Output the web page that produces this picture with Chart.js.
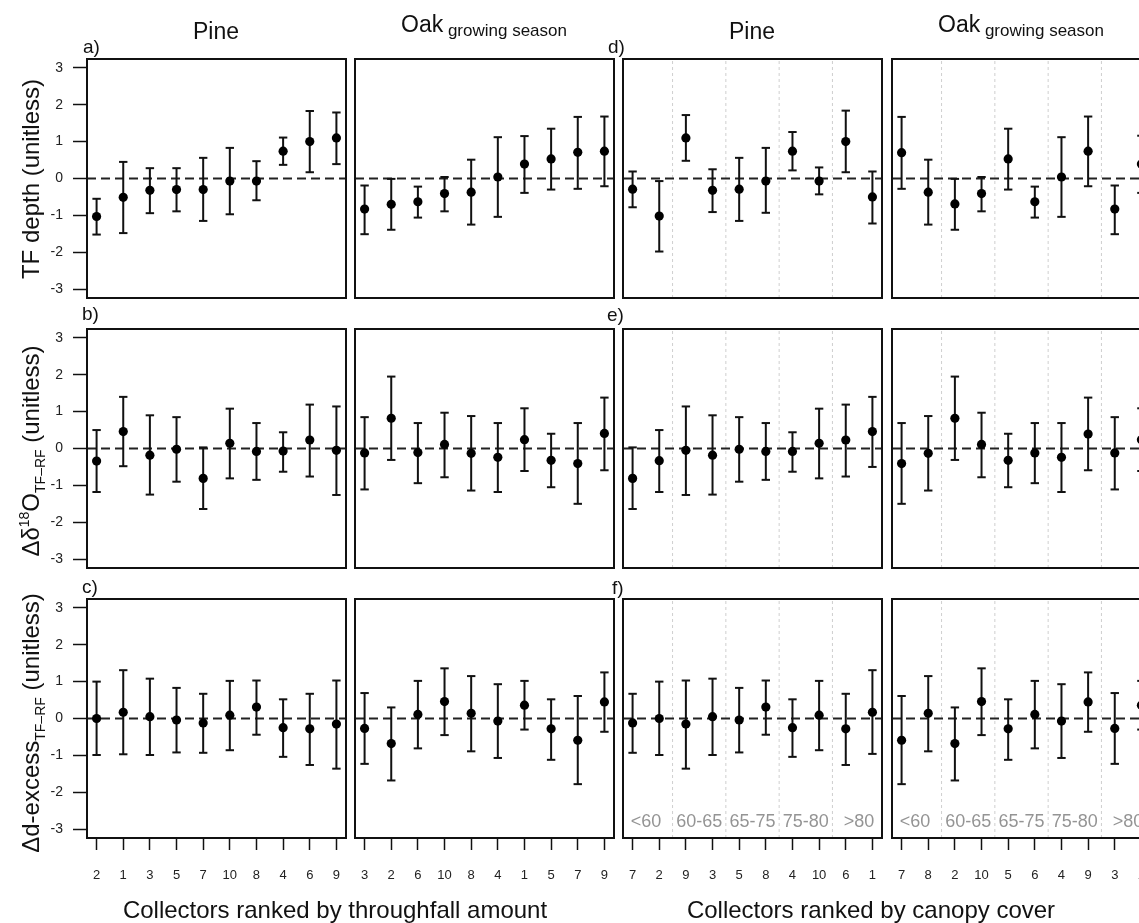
<!DOCTYPE html>
<html>
<head>
<meta charset="utf-8">
<script src="https://cdn.jsdelivr.net/npm/chart.js@4.4.1/dist/chart.umd.min.js"></script>
<style>
  html, body { margin: 0; padding: 0; background: #fff; overflow: hidden; }
  #fig { position: relative; width: 1139px; height: 923px; overflow: hidden;
         font-family: Arial, "Liberation Sans", sans-serif; color: #111; }
  #fig canvas { position: absolute; }
  .lbl { position: absolute; white-space: nowrap; line-height: 1; z-index: 2; }
  .ctr { transform: translateX(-50%); }
  .rot { transform: translate(-50%, -50%) rotate(-90deg); font-size: 24px; }
  .gs  { font-size: 17px; position: relative; top: 4px; }
  .sub { font-size: 14px; position: relative; top: 6px; }
  .sup { font-size: 14px; position: relative; top: -10px; }
</style>
</head>
<body>
<div id="fig">
  <div class="lbl ctr" style="left:216px;top:20px;font-size:23px">Pine</div>
  <div class="lbl ctr" style="left:484px;top:13px;font-size:23px">Oak<span class="gs"> growing season</span></div>
  <div class="lbl ctr" style="left:752px;top:20px;font-size:23px">Pine</div>
  <div class="lbl ctr" style="left:1021px;top:13px;font-size:23px">Oak<span class="gs"> growing season</span></div>

  <div class="lbl" style="left:83px;top:37px;font-size:19px">a)</div>
  <div class="lbl" style="left:82px;top:304px;font-size:19px">b)</div>
  <div class="lbl" style="left:82px;top:577px;font-size:19px">c)</div>
  <div class="lbl" style="left:608px;top:37px;font-size:19px">d)</div>
  <div class="lbl" style="left:607px;top:305px;font-size:19px">e)</div>
  <div class="lbl" style="left:612px;top:578px;font-size:19px">f)</div>

  <div class="lbl rot" style="left:31px;top:179px">TF depth (unitless)</div>
  <div class="lbl rot" style="left:31px;top:451px">Δδ<span class="sup">18</span>O<span class="sub">TF–RF</span> (unitless)</div>
  <div class="lbl rot" style="left:31px;top:723px">Δd-excess<span class="sub">TF–RF</span> (unitless)</div>

  <div class="lbl ctr" style="left:335px;top:898px;font-size:24px">Collectors ranked by throughfall amount</div>
  <div class="lbl ctr" style="left:871px;top:898px;font-size:24px">Collectors ranked by canopy cover</div>
</div>
<script>
// collector order on each x axis
const pineAmtOrder = ['2', '1', '3', '5', '7', '10', '8', '4', '6', '9'];
const oakAmtOrder = ['3', '2', '6', '10', '8', '4', '1', '5', '7', '9'];
const pineCanOrder = ['7', '2', '9', '3', '5', '8', '4', '10', '6', '1'];
const oakCanOrder = ['7', '8', '2', '10', '5', '6', '4', '9', '3', '1'];
const canopyGroups = ['<60', '60-65', '65-75', '75-80', '>80'];
const canopyGroupSize = [2, 2, 2, 2, 2];
const yTicks = [-3, -2, -1, 0, 1, 2, 3];

// TF depth
const depthPineAmt = [-1.03, -0.51, -0.32, -0.30, -0.30, -0.07, -0.07, 0.74, 1.00, 1.10];
const depthPineAmtLo = [-1.52, -1.48, -0.94, -0.89, -1.15, -0.97, -0.59, 0.37, 0.17, 0.39];
const depthPineAmtHi = [-0.55, 0.45, 0.28, 0.28, 0.56, 0.83, 0.47, 1.11, 1.83, 1.79];
const depthOakAmt = [-0.83, -0.70, -0.63, -0.41, -0.37, 0.04, 0.39, 0.53, 0.71, 0.74];
const depthOakAmtLo = [-1.51, -1.39, -1.06, -0.89, -1.25, -1.04, -0.39, -0.30, -0.28, -0.21];
const depthOakAmtHi = [-0.19, -0.01, -0.22, 0.04, 0.51, 1.12, 1.15, 1.35, 1.67, 1.68];
const depthPineCan = [-0.29, -1.02, 1.10, -0.32, -0.29, -0.07, 0.74, -0.07, 1.00, -0.50];
const depthPineCanLo = [-0.78, -1.98, 0.48, -0.91, -1.15, -0.93, 0.22, -0.43, 0.17, -1.22];
const depthPineCanHi = [0.19, -0.07, 1.72, 0.25, 0.56, 0.83, 1.26, 0.30, 1.84, 0.19];
const depthOakCan = [0.70, -0.37, -0.69, -0.41, 0.53, -0.63, 0.04, 0.74, -0.83, 0.39];
const depthOakCanLo = [-0.28, -1.25, -1.39, -0.89, -0.30, -1.06, -1.04, -0.21, -1.51, -0.39];
const depthOakCanHi = [1.67, 0.51, -0.01, 0.04, 1.35, -0.22, 1.12, 1.68, -0.19, 1.16];

// delta 18O
const o18PineAmt = [-0.34, 0.46, -0.18, -0.02, -0.81, 0.14, -0.08, -0.07, 0.23, -0.05];
const o18PineAmtLo = [-1.18, -0.48, -1.25, -0.90, -1.64, -0.81, -0.85, -0.63, -0.76, -1.26];
const o18PineAmtHi = [0.50, 1.40, 0.90, 0.85, 0.03, 1.08, 0.69, 0.44, 1.19, 1.14];
const o18OakAmt = [-0.12, 0.82, -0.11, 0.11, -0.13, -0.24, 0.24, -0.32, -0.41, 0.41];
const o18OakAmtLo = [-1.11, -0.31, -0.94, -0.78, -1.14, -1.18, -0.61, -1.05, -1.50, -0.59];
const o18OakAmtHi = [0.85, 1.95, 0.69, 0.97, 0.88, 0.69, 1.09, 0.40, 0.69, 1.38];
const o18PineCan = [-0.81, -0.33, -0.05, -0.18, -0.02, -0.08, -0.08, 0.14, 0.23, 0.46];
const o18PineCanLo = [-1.64, -1.18, -1.26, -1.25, -0.90, -0.85, -0.63, -0.81, -0.76, -0.50];
const o18PineCanHi = [0.03, 0.50, 1.14, 0.90, 0.85, 0.69, 0.44, 1.08, 1.19, 1.40];
const o18OakCan = [-0.41, -0.13, 0.82, 0.11, -0.32, -0.12, -0.24, 0.39, -0.12, 0.24];
const o18OakCanLo = [-1.50, -1.14, -0.31, -0.78, -1.05, -0.94, -1.18, -0.59, -1.11, -0.61];
const o18OakCanHi = [0.69, 0.88, 1.95, 0.97, 0.40, 0.69, 0.69, 1.38, 0.85, 1.09];

// d-excess
const dexPineAmt = [0.00, 0.17, 0.05, -0.04, -0.12, 0.09, 0.31, -0.25, -0.28, -0.15];
const dexPineAmtLo = [-0.99, -0.97, -0.99, -0.92, -0.93, -0.86, -0.44, -1.04, -1.26, -1.36];
const dexPineAmtHi = [1.00, 1.31, 1.08, 0.83, 0.67, 1.02, 1.03, 0.52, 0.67, 1.03];
const dexOakAmt = [-0.27, -0.68, 0.11, 0.46, 0.14, -0.07, 0.36, -0.28, -0.59, 0.45];
const dexOakAmtLo = [-1.23, -1.68, -0.81, -0.45, -0.89, -1.07, -0.30, -1.12, -1.78, -0.36];
const dexOakAmtHi = [0.69, 0.30, 1.02, 1.36, 1.15, 0.93, 1.02, 0.52, 0.61, 1.25];
const dexPineCan = [-0.12, 0.00, -0.15, 0.05, -0.04, 0.31, -0.25, 0.09, -0.28, 0.17];
const dexPineCanLo = [-0.93, -0.99, -1.36, -0.99, -0.92, -0.44, -1.04, -0.86, -1.26, -0.96];
const dexPineCanHi = [0.67, 1.00, 1.03, 1.08, 0.83, 1.03, 0.52, 1.02, 0.67, 1.31];
const dexOakCan = [-0.59, 0.14, -0.68, 0.46, -0.28, 0.11, -0.07, 0.45, -0.27, 0.36];
const dexOakCanLo = [-1.78, -0.89, -1.68, -0.45, -1.12, -0.81, -1.07, -0.36, -1.23, -0.30];
const dexOakCanHi = [0.61, 1.15, 0.30, 1.36, 0.52, 1.02, 0.93, 1.25, 0.69, 1.02];

const panels = [
    [[depthPineAmt, depthPineAmtLo, depthPineAmtHi, pineAmtOrder],
     [depthOakAmt, depthOakAmtLo, depthOakAmtHi, oakAmtOrder],
     [depthPineCan, depthPineCanLo, depthPineCanHi, pineCanOrder],
     [depthOakCan, depthOakCanLo, depthOakCanHi, oakCanOrder]],
    [[o18PineAmt, o18PineAmtLo, o18PineAmtHi, pineAmtOrder],
     [o18OakAmt, o18OakAmtLo, o18OakAmtHi, oakAmtOrder],
     [o18PineCan, o18PineCanLo, o18PineCanHi, pineCanOrder],
     [o18OakCan, o18OakCanLo, o18OakCanHi, oakCanOrder]],
    [[dexPineAmt, dexPineAmtLo, dexPineAmtHi, pineAmtOrder],
     [dexOakAmt, dexOakAmtLo, dexOakAmtHi, oakAmtOrder],
     [dexPineCan, dexPineCanLo, dexPineCanHi, pineCanOrder],
     [dexOakCan, dexOakCanLo, dexOakCanHi, oakCanOrder]]
];

// group boundaries and centres along the canopy ranking
const groupBreaks = [];
const groupCenters = [];
let acc = 0;
canopyGroupSize.forEach((n, i) => {
    groupCenters.push(acc + (n + 1) / 2);
    acc += n;
    if (i < canopyGroupSize.length - 1) groupBreaks.push(acc + 0.5);
});

const xMin = 0.64, xMax = 10.36, yMin = -3.24, yMax = 3.24;
const colLeft = [87, 355, 623, 892];
const rowTop = [59, 329, 599];
const panelW = 259, panelH = 239;
const PAD = 24, axisW = 87, axisH = 70;
const FONT = 'Arial, "Liberation Sans", sans-serif';

const boxPlugin = {
    id: 'box',
    afterDatasetsDraw(chart) {
        const a = chart.chartArea;
        const c = chart.ctx;
        c.save();
        c.strokeStyle = '#111';
        c.lineWidth = 2;
        c.strokeRect(a.left, a.top, a.right - a.left, a.bottom - a.top);
        c.restore();
    }
};

const groupPlugin = {
    id: 'groupLabels',
    afterDatasetsDraw(chart, args, opts) {
        if (!opts.show) return;
        const c = chart.ctx;
        const xs = chart.scales.x;
        c.save();
        c.font = '18px ' + FONT;
        c.fillStyle = '#949494';
        c.textAlign = 'center';
        c.textBaseline = 'middle';
        canopyGroups.forEach((g, i) => {
            c.fillText(g, xs.getPixelForValue(groupCenters[i]), chart.chartArea.bottom - 16);
        });
        c.restore();
    }
};

function makePanel(row, col) {
    const [mean, lo, hi, cats] = panels[row][col];
    const fig = document.getElementById('fig');
    const canvas = document.createElement('canvas');
    const showY = col === 0;
    const showX = row === 2;
    const left = showY ? 0 : colLeft[col] - PAD;
    const top = rowTop[row] - PAD;
    const w = (showY ? axisW : PAD) + panelW + PAD;
    const h = PAD + panelH + (showX ? axisH : PAD);
    canvas.width = w;
    canvas.height = h;
    canvas.style.left = left + 'px';
    canvas.style.top = top + 'px';
    canvas.style.width = w + 'px';
    canvas.style.height = h + 'px';
    fig.appendChild(canvas);

    const whiskers = [];
    lo.forEach((v, i) => {
        whiskers.push({ x: i + 1, y: v }, { x: i + 1, y: hi[i] }, { x: i + 1, y: null });
    });
    const caps = lo.map((v, i) => ({ x: i + 1, y: v }))
        .concat(hi.map((v, i) => ({ x: i + 1, y: v })));

    const datasets = [
        {
            data: mean.map((v, i) => ({ x: i + 1, y: v })),
            pointRadius: 4.6, pointBackgroundColor: '#000', pointBorderWidth: 0,
            order: 0
        },
        {
            data: caps, pointStyle: 'line', pointRadius: 4.2,
            pointBorderWidth: 2, pointBorderColor: '#111', order: 1
        },
        {
            data: whiskers, showLine: true, spanGaps: false, borderColor: '#111',
            borderWidth: 2, pointRadius: 0, order: 2
        },
        {
            data: [{ x: xMin, y: 0 }, { x: xMax, y: 0 }], showLine: true,
            borderColor: '#222', borderWidth: 2, borderDash: [9, 5], pointRadius: 0, order: 3
        }
    ];
    if (col >= 2) {
        const br = [];
        groupBreaks.forEach(b => br.push({ x: b, y: yMin }, { x: b, y: yMax }, { x: b, y: null }));
        datasets.push({
            data: br, showLine: true, spanGaps: false, borderColor: '#cfcfcf',
            borderWidth: 1, borderDash: [3, 3], pointRadius: 0, order: 4
        });
    }

    new Chart(canvas, {
        type: 'scatter',
        data: { datasets },
        plugins: [boxPlugin, groupPlugin],
        options: {
            responsive: false,
            maintainAspectRatio: false,
            devicePixelRatio: 1,
            animation: false,
            events: [],
            layout: {
                padding: { left: showY ? 0 : PAD, right: PAD, top: PAD, bottom: showX ? 0 : PAD }
            },
            plugins: {
                legend: { display: false },
                tooltip: { enabled: false },
                groupLabels: { show: showX && col >= 2 }
            },
            scales: {
                x: {
                    type: 'linear', min: xMin, max: xMax,
                    display: showX,
                    afterBuildTicks: s => { s.ticks = cats.map((c, i) => ({ value: i + 1 })); },
                    afterFit: s => { if (showX) s.height = axisH; },
                    grid: { drawOnChartArea: false, drawTicks: true, tickLength: 12, tickWidth: 1.5, tickColor: '#111' },
                    border: { display: false },
                    ticks: {
                        autoSkip: false, maxRotation: 0, padding: 18, color: '#222',
                        font: { family: FONT, size: 13 },
                        callback: v => cats[Math.round(v) - 1]
                    }
                },
                y: {
                    type: 'linear', min: yMin, max: yMax,
                    display: showY,
                    afterBuildTicks: s => { s.ticks = yTicks.map(v => ({ value: v })); },
                    afterFit: s => { if (showY) s.width = axisW; },
                    grid: { drawOnChartArea: false, drawTicks: true, tickLength: 14, tickWidth: 1.5, tickColor: '#111' },
                    border: { display: false },
                    ticks: { padding: 10, color: '#222', font: { family: FONT, size: 14 } }
                }
            }
        }
    });
}

for (let r = 0; r < 3; r++) {
    for (let c = 0; c < 4; c++) makePanel(r, c);
}
</script>
</body>
</html>
